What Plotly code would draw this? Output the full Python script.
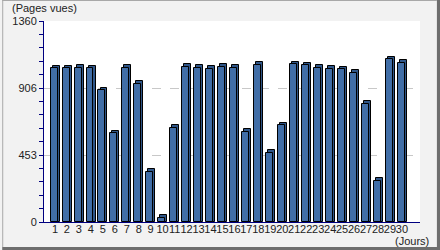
import plotly.graph_objects as go

days = list(range(1, 31))
views = [1040, 1040, 1042, 1040, 891, 600, 1042, 936, 340, 30,
         637, 1049, 1044, 1038, 1049, 1042, 612, 1063, 467, 653,
         1068, 1061, 1045, 1038, 1034, 1011, 800, 279, 1100, 1079]
y_ticks = [0, 453, 906, 1360]

depth_y = 17
bar_w = 0.58
depth_x = 0.17

fig = go.Figure()
# depth / side face (behind)
fig.add_trace(go.Bar(
    x=days, y=[v + depth_y for v in views], width=bar_w, offset=-0.36 + depth_x,
    marker=dict(color="#2f5689", line=dict(color="black", width=1)),
    hoverinfo="skip", showlegend=False))
# front face
fig.add_trace(go.Bar(
    x=days, y=views, width=bar_w, offset=-0.36,
    marker=dict(color="#416ea7", line=dict(color="black", width=1)),
    showlegend=False))

fig.update_layout(
    width=440, height=250,
    margin=dict(l=42, r=20, t=21, b=28),
    paper_bgcolor="#f2f2f2", plot_bgcolor="white",
    barmode="overlay", bargap=0,
    font=dict(family="Liberation Sans", size=11, color="#222222"),
)
fig.update_xaxes(
    range=[0.086, 31.51], tickmode="array", tickvals=days,
    ticktext=[str(d) for d in days], tickangle=0, ticks="",
    ticklabelstandoff=-3,
    showline=True, linecolor="#000080", linewidth=1,
    showgrid=False, zeroline=False, fixedrange=True,
    tickfont=dict(size=11),
)
fig.update_yaxes(
    range=[0, 1360], tickmode="array", tickvals=y_ticks,
    ticktext=[str(t) for t in y_ticks],
    ticks="outside", ticklen=4, tickcolor="#000080",
    minor=dict(tickmode="array",
               tickvals=[y_ticks[1] / 5 * k for k in range(1, 15) if k % 5 != 0],
               ticks="outside", ticklen=4, tickcolor="#000080", showgrid=False),
    showline=True, linecolor="#000080", linewidth=1,
    showgrid=True, gridcolor="#c8c8c8", griddash="dash", gridwidth=1,
    zeroline=False, fixedrange=True,
)

fig.add_annotation(text="(Pages vues)", xref="paper", yref="paper",
                   x=(8 - 42) / 378, y=(222 - 8) / 201, xanchor="left", yanchor="middle",
                   showarrow=False, font=dict(size=11))
fig.add_annotation(text="(Jours)", xref="paper", yref="paper",
                   x=(431 - 42) / 378, y=(222 - 241) / 201, xanchor="right", yanchor="middle",
                   showarrow=False, font=dict(size=11))

# frame
def px_x(p):
    return (p - 42) / 378

def px_y(p):
    return (222 - p) / 201

fig.add_shape(type="rect", xref="paper", yref="paper",
              x0=px_x(437), x1=px_x(440.5), y0=px_y(250.5), y1=px_y(0),
              fillcolor="#6e6e6e", line=dict(width=0), layer="above")
fig.add_shape(type="rect", xref="paper", yref="paper",
              x0=px_x(0), x1=px_x(440.5), y0=px_y(250.5), y1=px_y(247),
              fillcolor="#6e6e6e", line=dict(width=0), layer="above")
fig.add_shape(type="rect", xref="paper", yref="paper",
              x0=px_x(0), x1=px_x(1), y0=px_y(247), y1=px_y(0),
              fillcolor="#a8a8a8", line=dict(width=0), layer="above")
fig.add_shape(type="rect", xref="paper", yref="paper",
              x0=px_x(0), x1=px_x(437), y0=px_y(1), y1=px_y(0),
              fillcolor="#a8a8a8", line=dict(width=0), layer="above")

fig.write_html("out.html", config={"displayModeBar": False})
